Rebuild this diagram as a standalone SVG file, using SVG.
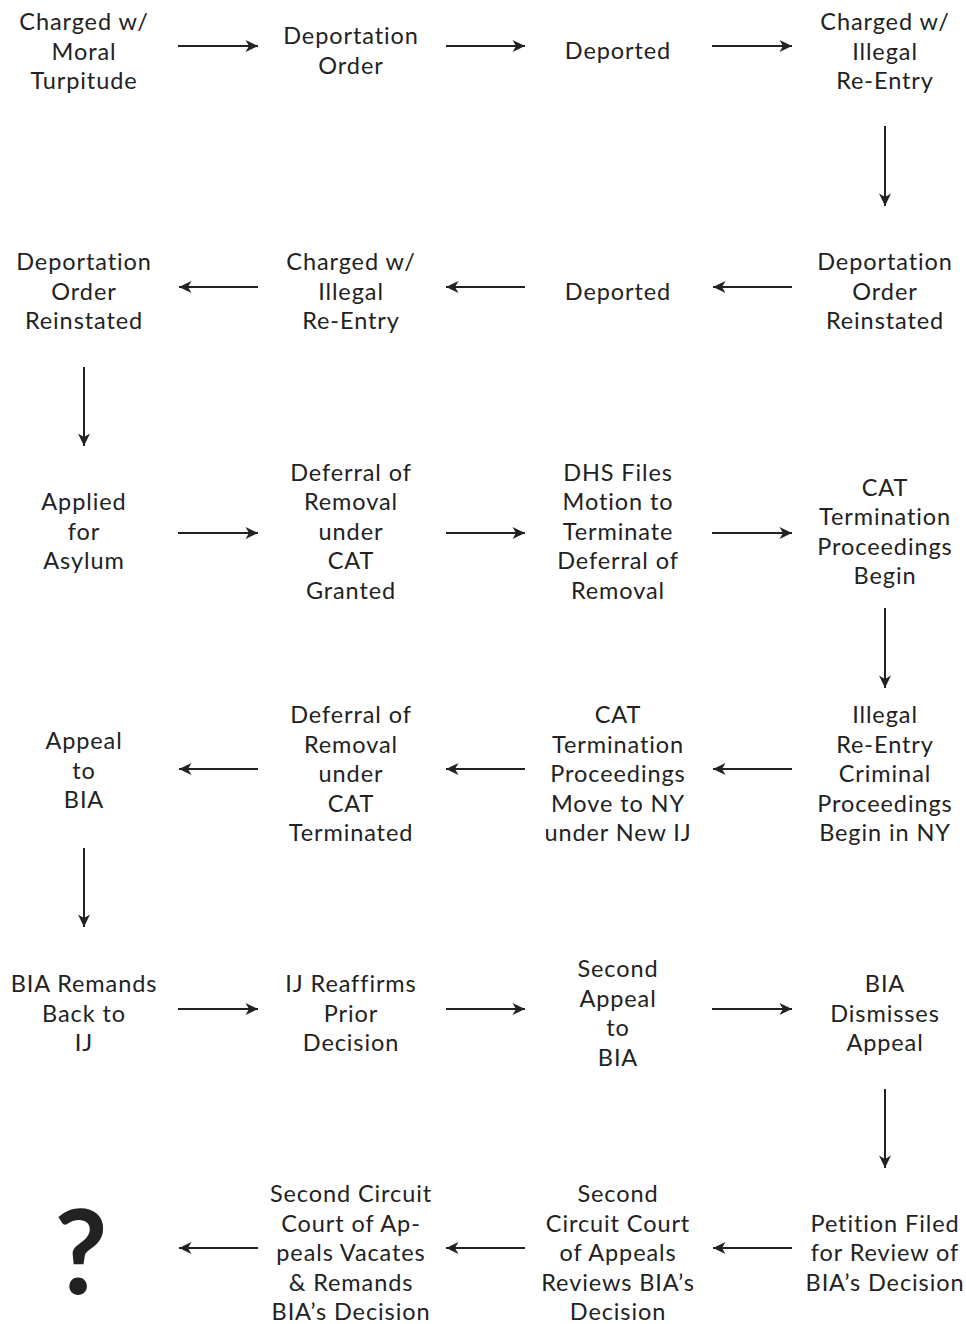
<svg xmlns="http://www.w3.org/2000/svg" width="966" height="1324" viewBox="0 0 966 1324">
<style>
text{font-family:Lato,"Noto Sans","Liberation Sans",sans-serif;font-size:23.5px;fill:#222;text-anchor:middle;letter-spacing:0.9px;font-variant-ligatures:none}
.q{font-size:116px;font-weight:bold;letter-spacing:0}
line{stroke:#222;stroke-width:2}
</style>
<defs>
<marker id="ah" markerUnits="userSpaceOnUse" markerWidth="14" markerHeight="14" viewBox="0 0 14 14" refX="13" refY="7" orient="auto">
<path d="M0.5,1 L13,7 L0.5,13 L4,7 z" fill="#222"/>
</marker>
</defs>
<rect width="966" height="1324" fill="#fff"/>
<g id="connectors">
<line x1="178" y1="46" x2="258" y2="46" marker-end="url(#ah)"/>
<line x1="446" y1="46" x2="525" y2="46" marker-end="url(#ah)"/>
<line x1="712" y1="46" x2="792" y2="46" marker-end="url(#ah)"/>
<line x1="885" y1="126" x2="885" y2="206" marker-end="url(#ah)"/>
<line x1="792" y1="287" x2="713" y2="287" marker-end="url(#ah)"/>
<line x1="525" y1="287" x2="446" y2="287" marker-end="url(#ah)"/>
<line x1="258" y1="287" x2="179" y2="287" marker-end="url(#ah)"/>
<line x1="84" y1="367" x2="84" y2="446" marker-end="url(#ah)"/>
<line x1="178" y1="533" x2="258" y2="533" marker-end="url(#ah)"/>
<line x1="446" y1="533" x2="525" y2="533" marker-end="url(#ah)"/>
<line x1="712" y1="533" x2="792" y2="533" marker-end="url(#ah)"/>
<line x1="885" y1="608" x2="885" y2="688" marker-end="url(#ah)"/>
<line x1="792" y1="769" x2="713" y2="769" marker-end="url(#ah)"/>
<line x1="525" y1="769" x2="446" y2="769" marker-end="url(#ah)"/>
<line x1="258" y1="769" x2="179" y2="769" marker-end="url(#ah)"/>
<line x1="84" y1="848" x2="84" y2="927" marker-end="url(#ah)"/>
<line x1="178" y1="1009" x2="258" y2="1009" marker-end="url(#ah)"/>
<line x1="446" y1="1009" x2="525" y2="1009" marker-end="url(#ah)"/>
<line x1="712" y1="1009" x2="792" y2="1009" marker-end="url(#ah)"/>
<line x1="885" y1="1089" x2="885" y2="1168" marker-end="url(#ah)"/>
<line x1="792" y1="1248" x2="713" y2="1248" marker-end="url(#ah)"/>
<line x1="525" y1="1248" x2="446" y2="1248" marker-end="url(#ah)"/>
<line x1="258" y1="1248" x2="179" y2="1248" marker-end="url(#ah)"/>
</g>
<g id="n1"><text x="84" y="30">Charged w/</text><text x="84" y="59.5">Moral</text><text x="84" y="89">Turpitude</text></g>
<g id="n2"><text x="351" y="44">Deportation</text><text x="351" y="73.5">Order</text></g>
<g id="n3"><text x="618" y="59">Deported</text></g>
<g id="n4"><text x="885" y="30">Charged w/</text><text x="885" y="59.5">Illegal</text><text x="885" y="89">Re-Entry</text></g>
<g id="n5"><text x="885" y="270">Deportation</text><text x="885" y="299.5">Order</text><text x="885" y="329">Reinstated</text></g>
<g id="n6"><text x="618" y="299.5">Deported</text></g>
<g id="n7"><text x="351" y="270">Charged w/</text><text x="351" y="299.5">Illegal</text><text x="351" y="329">Re-Entry</text></g>
<g id="n8"><text x="84" y="270">Deportation</text><text x="84" y="299.5">Order</text><text x="84" y="329">Reinstated</text></g>
<g id="n9"><text x="84" y="510">Applied</text><text x="84" y="539.5">for</text><text x="84" y="569">Asylum</text></g>
<g id="n10"><text x="351" y="480.5">Deferral of</text><text x="351" y="510">Removal</text><text x="351" y="539.5">under</text><text x="351" y="569">CAT</text><text x="351" y="598.5">Granted</text></g>
<g id="n11"><text x="618" y="480.5">DHS Files</text><text x="618" y="510">Motion to</text><text x="618" y="539.5">Terminate</text><text x="618" y="569">Deferral of</text><text x="618" y="598.5">Removal</text></g>
<g id="n12"><text x="885" y="495.5">CAT</text><text x="885" y="525">Termination</text><text x="885" y="554.5">Proceedings</text><text x="885" y="584">Begin</text></g>
<g id="n13"><text x="885" y="723">Illegal</text><text x="885" y="752.5">Re-Entry</text><text x="885" y="782">Criminal</text><text x="885" y="811.5">Proceedings</text><text x="885" y="841">Begin in NY</text></g>
<g id="n14"><text x="618" y="723">CAT</text><text x="618" y="752.5">Termination</text><text x="618" y="782">Proceedings</text><text x="618" y="811.5">Move to NY</text><text x="618" y="841">under New IJ</text></g>
<g id="n15"><text x="351" y="723">Deferral of</text><text x="351" y="752.5">Removal</text><text x="351" y="782">under</text><text x="351" y="811.5">CAT</text><text x="351" y="841">Terminated</text></g>
<g id="n16"><text x="84" y="749">Appeal</text><text x="84" y="778.5">to</text><text x="84" y="808">BIA</text></g>
<g id="n17"><text x="84" y="992">BIA Remands</text><text x="84" y="1021.5">Back to</text><text x="84" y="1051">IJ</text></g>
<g id="n18"><text x="351" y="992">IJ Reaffirms</text><text x="351" y="1021.5">Prior</text><text x="351" y="1051">Decision</text></g>
<g id="n19"><text x="618" y="977">Second</text><text x="618" y="1006.5">Appeal</text><text x="618" y="1036">to</text><text x="618" y="1065.5">BIA</text></g>
<g id="n20"><text x="885" y="992">BIA</text><text x="885" y="1021.5">Dismisses</text><text x="885" y="1051">Appeal</text></g>
<g id="n21"><text x="885" y="1231.5">Petition Filed</text><text x="885" y="1261">for Review of</text><text x="885" y="1290.5">BIA’s Decision</text></g>
<g id="n22"><text x="618" y="1202">Second</text><text x="618" y="1231.5">Circuit Court</text><text x="618" y="1261">of Appeals</text><text x="618" y="1290.5">Reviews BIA’s</text><text x="618" y="1320">Decision</text></g>
<g id="n23"><text x="351" y="1202">Second Circuit</text><text x="351" y="1231.5">Court of Ap-</text><text x="351" y="1261">peals Vacates</text><text x="351" y="1290.5">&amp; Remands</text><text x="351" y="1320">BIA’s Decision</text></g>
<g id="n24"><text class="q" x="81" y="1294">?</text></g>
</svg>
